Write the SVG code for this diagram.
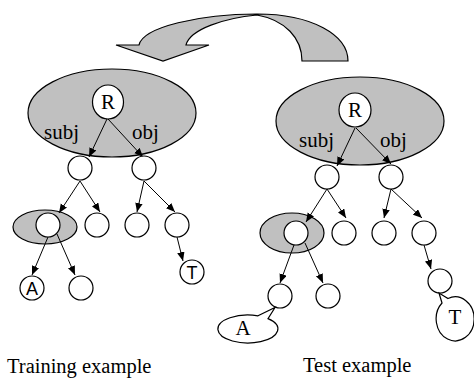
<svg xmlns="http://www.w3.org/2000/svg" width="474" height="378" viewBox="0 0 474 378">
<defs>
<style>
.bg{fill:#c0c0c0;stroke:#000;stroke-width:1.2}
.nd{fill:#fff;stroke:#000;stroke-width:1.2}
.ed{stroke:#000;stroke-width:1;fill:none;marker-end:url(#ah)}
.tm{font-family:"Liberation Serif","Times New Roman",serif;font-size:21px;fill:#000}
.ss{font-family:"Liberation Sans",Arial,sans-serif;font-size:18px;fill:#000;text-anchor:middle}
</style>
<marker id="ah" markerWidth="10" markerHeight="8" refX="9" refY="3.75" orient="auto" markerUnits="userSpaceOnUse">
<path d="M0,0 L9,3.75 L0,7.5 Z" fill="#000"/>
</marker>
</defs>
<rect width="474" height="378" fill="#fff"/>

<g id="bigarrow">
<path class="bg" d="M302,61 L348,61 C348,35 312,14 257,14 C200,14 143,27 139,45 L116,45 L163,61 L209,45 L186,45 C190,29 225,18 257,15 C285,20 302,38 302,61 Z"/>
</g>

<g id="training-region">
<ellipse class="bg" cx="112" cy="113" rx="84" ry="44"/>
<ellipse class="bg" cx="45" cy="227" rx="32" ry="17"/>
</g>
<g id="test-region">
<ellipse class="bg" cx="360" cy="121" rx="84" ry="44"/>
<ellipse class="bg" cx="292" cy="233" rx="32" ry="20"/>
</g>

<g id="connectors">
<line class="ed" x1="107" y1="119" x2="89" y2="157"/>
<line class="ed" x1="108" y1="119" x2="143" y2="157"/>
<line class="ed" x1="80" y1="181" x2="59" y2="213"/>
<line class="ed" x1="80" y1="181" x2="100" y2="212"/>
<line class="ed" x1="144" y1="181" x2="137" y2="212"/>
<line class="ed" x1="144" y1="181" x2="175" y2="212"/>
<line class="ed" x1="48" y1="237" x2="32" y2="275"/>
<line class="ed" x1="57" y1="234" x2="75" y2="275"/>
<line class="ed" x1="177" y1="237" x2="183" y2="261"/>

<line class="ed" x1="355" y1="128" x2="337" y2="166"/>
<line class="ed" x1="356" y1="128" x2="391" y2="164"/>
<line class="ed" x1="327" y1="189" x2="306" y2="222"/>
<line class="ed" x1="327" y1="189" x2="346" y2="218"/>
<line class="ed" x1="391" y1="189" x2="384" y2="218"/>
<line class="ed" x1="391" y1="189" x2="422" y2="218"/>
<line class="ed" x1="294" y1="245" x2="280" y2="283"/>
<line class="ed" x1="305" y1="243" x2="323" y2="283"/>
<line class="ed" x1="424" y1="245" x2="431" y2="269"/>
</g>

<g id="L-R"><ellipse class="nd" cx="108" cy="102" rx="15.5" ry="17"/><text class="tm" x="108" y="109" text-anchor="middle">R</text></g>
<g id="L-subj"><text class="tm" x="44" y="139">subj</text></g>
<g id="L-obj"><text class="tm" x="132" y="139">obj</text></g>
<g id="L-n1"><circle class="nd" cx="80" cy="168" r="12"/></g>
<g id="L-n2"><circle class="nd" cx="144" cy="168" r="12"/></g>
<g id="L-n3"><circle class="nd" cx="48" cy="225" r="12"/></g>
<g id="L-n4"><circle class="nd" cx="97" cy="225" r="12"/></g>
<g id="L-n5"><circle class="nd" cx="137" cy="225" r="12"/></g>
<g id="L-n6"><circle class="nd" cx="177" cy="225" r="12"/></g>
<g id="L-A"><circle class="nd" cx="32" cy="288" r="12"/><text class="ss" x="32" y="295">A</text></g>
<g id="L-n7"><circle class="nd" cx="81" cy="288" r="12"/></g>
<g id="L-T"><circle class="nd" cx="192" cy="272" r="12"/><text class="ss" x="192" y="279">T</text></g>
<g id="L-label"><text class="tm" x="7" y="373" style="font-size:20.5px">Training example</text></g>

<g id="R-R"><ellipse class="nd" cx="355" cy="110" rx="16" ry="17"/><text class="tm" x="355" y="117" text-anchor="middle">R</text></g>
<g id="R-subj"><text class="tm" x="299" y="147">subj</text></g>
<g id="R-obj"><text class="tm" x="380" y="147">obj</text></g>
<g id="R-n1"><circle class="nd" cx="327" cy="177" r="12"/></g>
<g id="R-n2"><circle class="nd" cx="391" cy="177" r="12"/></g>
<g id="R-n3"><circle class="nd" cx="296" cy="233" r="12"/></g>
<g id="R-n4"><circle class="nd" cx="344" cy="233" r="12"/></g>
<g id="R-n5"><circle class="nd" cx="384" cy="233" r="12"/></g>
<g id="R-n6"><circle class="nd" cx="424" cy="233" r="12"/></g>
<g id="R-n7"><circle class="nd" cx="280" cy="296" r="12"/></g>
<g id="R-n8"><circle class="nd" cx="328" cy="296" r="12"/></g>
<g id="R-n9"><circle class="nd" cx="440" cy="281" r="12"/></g>
<g id="R-A"><path class="nd" d="M258,315.8 L275,307.5 L268,318.6 A30,14 0 1,1 258,315.8 Z"/><text class="tm" x="243" y="335" text-anchor="middle">A</text></g>
<g id="R-T"><path class="nd" d="M442,303 L439,293 L448,298.5 A19,22 0 1,1 442,303 Z"/><text class="tm" x="455" y="324" text-anchor="middle">T</text></g>
<g id="R-label"><text class="tm" x="303" y="372" style="font-size:20.5px">Test example</text></g>
</svg>
